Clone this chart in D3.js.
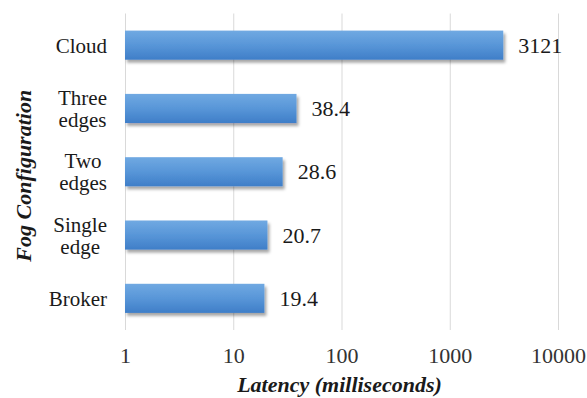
<!DOCTYPE html>
<html>
<head>
<meta charset="utf-8">
<script src="https://cdn.jsdelivr.net/npm/d3@7"></script>
<style>
  html, body { margin: 0; padding: 0; background: #fff; }
  svg { display: block; }
</style>
</head>
<body>
<svg id="chart" width="587" height="398"></svg>
<script>
// Latency per fog configuration (ms), shown on a log axis
const categories = ["Cloud", "Three edges", "Two edges", "Single edge", "Broker"];
const latency = [3121, 38.4, 28.6, 20.7, 19.4];
const tickValues = [1, 10, 100, 1000, 10000];
const xTitle = "Latency (milliseconds)";
const yTitle = "Fog Configuration";

// pick the first installed serif face from a list of candidates
function pickSerif() {
  const names = ["Liberation Serif", "Times New Roman", "Tinos", "Times", "DejaVu Serif",
                 "Noto Serif", "FreeSerif", "Nimbus Roman", "Nimbus Roman No9 L"];
  const ctx = document.createElement("canvas").getContext("2d");
  const sample = "Fog Configuration Broker 0123456789";
  const w = f => { ctx.font = "40px " + f; return ctx.measureText(sample).width; };
  const base = ["monospace", "sans-serif"].map(w);
  for (const n of names) {
    const q = `'${n}'`;
    if (w(`${q}, monospace`) !== base[0] && w(`${q}, sans-serif`) !== base[1]) return `${q}, serif`;
  }
  return "serif";
}
const SERIF = pickSerif();

const svg = d3.select("#chart");
const plot = { left: 125, right: 558, top: 13.5, bottom: 330 };

const x = d3.scaleLog().domain([1, 10000]).range([plot.left, plot.right]);
const y = d3.scaleBand().domain(categories).range([plot.top, plot.bottom])
  .paddingInner(0.54).paddingOuter(0.27);

const defs = svg.append("defs");
const grad = defs.append("linearGradient").attr("id", "barFill")
  .attr("x1", 0).attr("y1", 0).attr("x2", 0).attr("y2", 1);
grad.append("stop").attr("offset", "0%").attr("stop-color", "#70a9e2");
grad.append("stop").attr("offset", "50%").attr("stop-color", "#5896d8");
grad.append("stop").attr("offset", "100%").attr("stop-color", "#3f7ec8");

const shadow = defs.append("filter").attr("id", "barShadow")
  .attr("x", "-10%").attr("y", "-30%").attr("width", "130%").attr("height", "180%");
shadow.append("feDropShadow").attr("dx", 2).attr("dy", 3).attr("stdDeviation", 1.8)
  .attr("flood-color", "#000").attr("flood-opacity", 0.35);

// vertical gridlines via the axis
const xAxis = d3.axisBottom(x).tickValues(tickValues)
  .tickSize(-(plot.bottom - plot.top)).tickFormat(d3.format("d"));
const gx = svg.append("g").attr("transform", `translate(0,${plot.bottom})`).call(xAxis)
  .attr("font-family", SERIF).attr("font-size", 22);
gx.select(".domain").remove();
gx.selectAll(".tick line").attr("stroke", "#d9d9d9").attr("stroke-width", 1);
gx.selectAll(".tick text")
  .attr("y", 33).attr("dy", 0)
  .attr("fill", "#333")
  .style("font-family", SERIF).style("font-size", "22px");

// bars
svg.append("g").selectAll("rect").data(categories).join("rect")
  .attr("x", x(1))
  .attr("y", d => y(d))
  .attr("width", (d, i) => x(latency[i]) - x(1))
  .attr("height", y.bandwidth())
  .attr("fill", "url(#barFill)")
  .attr("filter", "url(#barShadow)");

// value labels
svg.append("g").selectAll("text").data(categories).join("text")
  .attr("x", (d, i) => x(latency[i]) + 15)
  .attr("y", d => y(d) + y.bandwidth() / 2 + 7.5)
  .attr("fill", "#1a1a1a")
  .style("font-family", SERIF).style("font-size", "22px")
  .text((d, i) => String(latency[i]));

// category labels: lines centred on each other, block right-aligned
const labelRight = 107;
const lineGap = 22;
categories.forEach(cat => {
  const lines = cat.split(" ");
  const g = svg.append("g");
  const texts = lines.map(ln => g.append("text")
    .style("font-family", SERIF).style("font-size", "21px")
    .attr("fill", "#1a1a1a")
    .attr("text-anchor", "middle").text(ln));
  const maxW = d3.max(texts, t => t.node().getComputedTextLength());
  const cy = y(cat) + y.bandwidth() / 2;
  const firstBase = cy + 7.5 - (lines.length - 1) * lineGap / 2;
  texts.forEach((t, j) => t.attr("x", labelRight - maxW / 2).attr("y", firstBase + j * lineGap));
});

// axis titles
svg.append("text")
  .attr("x", (plot.left + plot.right) / 2 - 2).attr("y", 392)
  .attr("text-anchor", "middle")
  .style("font-family", SERIF).style("font-size", "22px")
  .style("font-weight", "bold").style("font-style", "italic")
  .attr("fill", "#1a1a1a").text(xTitle);

svg.append("text")
  .attr("transform", `translate(31,${(plot.top + plot.bottom) / 2 + 4}) rotate(-90)`)
  .attr("text-anchor", "middle")
  .style("font-family", SERIF).style("font-size", "22px")
  .style("font-weight", "bold").style("font-style", "italic")
  .attr("fill", "#1a1a1a").text(yTitle);
</script>
</body>
</html>
